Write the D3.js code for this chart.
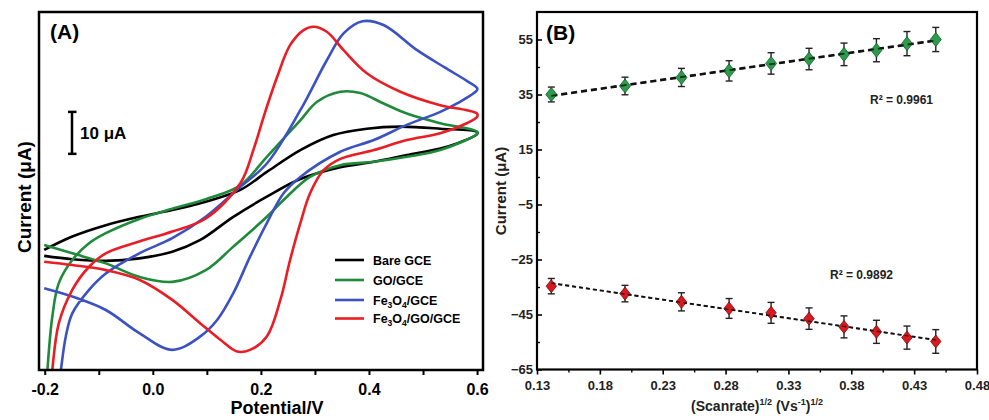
<!DOCTYPE html>
<html><head><meta charset="utf-8">
<script src="https://cdn.jsdelivr.net/npm/d3@7"></script>
<style>body{margin:0;background:#fff}svg{display:block;font-family:"Liberation Sans",Arial,sans-serif}</style>
</head><body><svg id="c" width="989" height="420"></svg>
<script>
// ---------- Panel A data: [potential (V), current (μA)] — forward branch then reverse branch ----------
const bareGCE = [[-0.201,-11.9],[-0.149,-8.7],[-0.087,-6.0],[-0.025,-4.0],[0.036,-2.4],[0.098,-0.4],[0.162,2.4],[0.211,6.7],[0.273,11.9],[0.334,15.5],[0.396,17.0],[0.458,17.5],[0.532,17.0],[0.600,16.2],
  [0.600,15.7],[0.563,13.5],[0.532,12.3],[0.470,10.7],[0.409,9.1],[0.347,7.8],[0.273,5.0],[0.211,0.8],[0.149,-4.0],[0.088,-9.5],[0.036,-12.3],[-0.025,-13.9],[-0.087,-14.5],[-0.149,-14.1],[-0.201,-13.3]];
const goGCE = [[-0.198,-47.6],[-0.195,-40.5],[-0.186,-27.8],[-0.174,-19.8],[-0.149,-14.3],[-0.118,-10.3],[-0.087,-7.9],[-0.025,-4.5],[0.036,-2.1],[0.098,0.2],[0.162,3.5],[0.211,10.3],[0.273,19.0],[0.304,23.4],[0.347,25.8],[0.384,25.5],[0.427,23.0],[0.470,20.6],[0.532,18.3],[0.600,16.3],
  [0.600,15.8],[0.532,11.9],[0.470,10.3],[0.409,9.1],[0.347,8.3],[0.291,5.5],[0.242,0.0],[0.211,-4.0],[0.149,-11.1],[0.098,-16.7],[0.036,-19.5],[-0.025,-18.3],[-0.087,-15.1],[-0.149,-12.7],[-0.201,-10.7]];
const fe3o4GCE = [[-0.176,-47.6],[-0.170,-40.5],[-0.161,-32.5],[-0.149,-27.0],[-0.118,-21.4],[-0.087,-17.5],[-0.025,-12.7],[0.036,-9.1],[0.098,-4.0],[0.160,2.9],[0.211,8.7],[0.273,21.4],[0.322,33.3],[0.353,39.7],[0.388,42.6],[0.427,41.7],[0.489,35.7],[0.540,31.6],[0.581,28.4],[0.600,26.7],
  [0.600,26.2],[0.563,23.0],[0.532,21.0],[0.470,17.9],[0.409,14.3],[0.347,11.5],[0.273,5.5],[0.242,1.6],[0.211,-5.5],[0.180,-13.5],[0.149,-22.2],[0.119,-28.6],[0.088,-32.5],[0.036,-35.7],[-0.025,-31.7],[-0.087,-26.2],[-0.149,-23.0],[-0.201,-21.0]];
const fe3o4GoGCE = [[-0.191,-47.6],[-0.186,-40.5],[-0.174,-29.4],[-0.149,-21.4],[-0.118,-15.9],[-0.087,-12.7],[-0.025,-9.9],[0.036,-7.5],[0.098,-4.4],[0.162,4.0],[0.186,11.9],[0.208,21.0],[0.230,29.3],[0.254,36.9],[0.279,40.5],[0.297,41.3],[0.322,40.1],[0.353,35.7],[0.396,30.2],[0.458,25.8],[0.532,22.6],[0.581,21.4],[0.600,20.6],
  [0.600,19.8],[0.581,18.3],[0.532,15.9],[0.470,14.3],[0.409,11.9],[0.347,9.8],[0.316,7.1],[0.291,1.6],[0.273,-5.5],[0.254,-14.3],[0.236,-23.8],[0.211,-32.5],[0.180,-35.7],[0.156,-36.1],[0.125,-33.3],[0.088,-29.4],[0.036,-23.8],[-0.025,-19.0],[-0.087,-16.7],[-0.149,-15.5],[-0.201,-14.7]];
const legendNames = ["Bare GCE", "GO/GCE", "Fe3O4/GCE", "Fe3O4/GO/GCE"];
const potentialTicks = [-0.2,-0.1,0.0,0.1,0.2,0.3,0.4,0.5,0.6];
const potentialLabels = ["-0.2","","0.0","","0.2","","0.4","","0.6"];

// ---------- Panel B data ----------
const sqrtScanRate = [0.1414,0.2000,0.2449,0.2828,0.3162,0.3464,0.3742,0.4000,0.4243,0.4472];
const anodicPeak   = [35.0,38.1,41.2,43.6,46.3,47.9,49.6,51.1,53.5,55.0];
const anodicErr    = [2.7,3.2,3.3,3.7,3.9,3.9,4.1,4.2,4.4,4.4];
const cathodicPeak = [-34.7,-37.4,-40.4,-42.8,-44.4,-46.5,-49.5,-51.3,-53.4,-54.8];
const cathodicErr  = [2.8,3.0,3.3,3.6,3.8,3.9,4.0,4.2,4.2,4.3];
const rateTicks = [0.13,0.18,0.23,0.28,0.33,0.38,0.43,0.48];
const rateMinor = [0.155,0.205,0.255,0.305,0.355,0.405,0.455];
const currentTicks = [-65,-45,-25,-5,15,35,55];
const currentMinor = [-55,-35,-15,5,25,45];
const r2Labels = ["R² = 0.9961","R² = 0.9892"];

const svg = d3.select("#c");
const FONT = '"Liberation Sans",Arial,sans-serif';

// ================= Panel A =================
const A = {l:39, r:483, t:12, b:370};
const xA = d3.scaleLinear().domain([-0.2106,0.611]).range([A.l,A.r]);
const yA = d3.scaleLinear().domain([-40.5,44.8]).range([A.b,A.t]);
svg.append("clipPath").attr("id","clipA").append("rect")
  .attr("x",A.l).attr("y",A.t).attr("width",A.r-A.l).attr("height",A.b-A.t);
const colorsA = ["#000000","#1f8a3a","#3d52c2","#ea1d25"];
const seriesA = [bareGCE, goGCE, fe3o4GCE, fe3o4GoGCE];
const lineA = d3.line().x(d=>xA(d[0])).y(d=>yA(d[1])).curve(d3.curveCatmullRom.alpha(0.5));
const gA = svg.append("g").attr("clip-path","url(#clipA)");
seriesA.forEach((s,i)=>{
  gA.append("path").attr("d",lineA(s)).attr("fill","none")
    .attr("stroke",colorsA[i]).attr("stroke-width",2.6).attr("stroke-linejoin","round");
});
svg.append("rect").attr("x",A.l).attr("y",A.t).attr("width",A.r-A.l).attr("height",A.b-A.t)
  .attr("fill","none").attr("stroke","#000").attr("stroke-width",2.5);
const axA = svg.append("g").attr("transform",`translate(0,${A.b})`)
  .call(d3.axisBottom(xA).tickValues(potentialTicks).tickFormat((d,i)=>potentialLabels[i]).tickSize(5).tickPadding(9));
axA.select(".domain").remove();
axA.selectAll("line").attr("stroke-width",2);
axA.selectAll("text").attr("font-size",16).attr("font-weight","bold").attr("font-family",FONT).attr("fill","#000");
svg.append("text").attr("x",277).attr("y",414).attr("text-anchor","middle")
  .attr("font-size",18).attr("font-weight","bold").text("Potential/V");
svg.append("text").attr("transform","translate(31,197) rotate(-90)").attr("text-anchor","middle")
  .attr("font-size",19).attr("font-weight","bold").text("Current (μA)");
svg.append("text").attr("x",50).attr("y",39).attr("font-size",21).attr("font-weight","bold").text("(A)");
// scale bar 10 μA
const sbTop = yA(21), sbBot = yA(11);
svg.append("line").attr("x1",72).attr("x2",72).attr("y1",sbTop).attr("y2",sbBot).attr("stroke","#000").attr("stroke-width",2.5);
[sbTop,sbBot].forEach(y=>svg.append("line").attr("x1",68).attr("x2",76.5).attr("y1",y).attr("y2",y).attr("stroke","#000").attr("stroke-width",2.5));
svg.append("text").attr("x",80).attr("y",(sbTop+sbBot)/2+6).attr("font-size",17).attr("font-weight","bold").text("10 μA");
// legend
const legY = [260,280,300,318.5];
legendNames.forEach((n,i)=>{
  svg.append("line").attr("x1",335).attr("x2",364).attr("y1",legY[i]).attr("y2",legY[i])
    .attr("stroke",colorsA[i]).attr("stroke-width",2.6);
  const t = svg.append("text").attr("x",373).attr("y",legY[i]+4.5).attr("font-size",12.5).attr("font-weight","bold");
  const parts = n.split(/(\d)/);
  let shifted = false;
  parts.forEach(p=>{
    if (/^\d$/.test(p)) { t.append("tspan").attr("font-size",8.5).attr("dy",shifted?0:3).text(p); shifted = true; }
    else if (p) { t.append("tspan").attr("dy",shifted?-3:0).text(p); shifted = false; }
  });
});

// ================= Panel B =================
const B = {l:537, r:977, t:12, b:369.5};
const xB = d3.scaleLinear().domain([0.13,0.48]).range([B.l,B.r]);
const yB = d3.scaleLinear().domain([-65,65]).range([B.b,B.t]);
svg.append("rect").attr("x",B.l).attr("y",B.t).attr("width",B.r-B.l).attr("height",B.b-B.t)
  .attr("fill","none").attr("stroke","#000").attr("stroke-width",2.2);
const axBx = svg.append("g").attr("transform",`translate(0,${B.b})`)
  .call(d3.axisBottom(xB).tickValues(rateTicks).tickFormat(d3.format(".2f")).tickSize(5).tickPadding(6));
axBx.select(".domain").remove();
axBx.selectAll("line").attr("stroke-width",1.6);
axBx.selectAll("text").attr("font-size",13).attr("font-weight","bold").attr("font-family",FONT).attr("fill","#222");
const axBxm = svg.append("g").attr("transform",`translate(0,${B.b})`)
  .call(d3.axisBottom(xB).tickValues(rateMinor).tickFormat("").tickSize(3));
axBxm.select(".domain").remove(); axBxm.selectAll("line").attr("stroke-width",1.4);
const axBy = svg.append("g").attr("transform",`translate(${B.l},0)`)
  .call(d3.axisLeft(yB).tickValues(currentTicks).tickFormat(d3.format("d")).tickSize(-5).tickPadding(4));
axBy.select(".domain").remove();
axBy.selectAll("line").attr("stroke-width",1.6);
axBy.selectAll("text").attr("font-size",13).attr("font-weight","bold").attr("font-family",FONT).attr("fill","#222");
const axBym = svg.append("g").attr("transform",`translate(${B.l},0)`)
  .call(d3.axisLeft(yB).tickValues(currentMinor).tickFormat("").tickSize(-3));
axBym.select(".domain").remove(); axBym.selectAll("line").attr("stroke-width",1.4);

svg.append("text").attr("x",546).attr("y",40).attr("font-size",21).attr("font-weight","bold").text("(B)");
svg.append("text").attr("transform","translate(506,191) rotate(-90)").attr("text-anchor","middle")
  .attr("font-size",15).attr("font-weight","bold").attr("fill","#222").text("Current (μA)");
const xt = svg.append("text").attr("x",757).attr("y",411).attr("text-anchor","middle")
  .attr("font-size",14).attr("font-weight","bold").attr("fill","#222");
xt.append("tspan").text("(Scanrate)");
xt.append("tspan").attr("font-size",9).attr("dy",-6).text("1/2");
xt.append("tspan").attr("dy",6).text(" (Vs");
xt.append("tspan").attr("font-size",9).attr("dy",-6).text("-1");
xt.append("tspan").attr("dy",6).text(")");
xt.append("tspan").attr("font-size",9).attr("dy",-6).text("1/2");

function fit(xs, ys){
  const mx=d3.mean(xs), my=d3.mean(ys);
  let sxy=0,sxx=0; xs.forEach((x,i)=>{sxy+=(x-mx)*(ys[i]-my); sxx+=(x-mx)*(x-mx);});
  const m=sxy/sxx; return {m, b:my-m*mx};
}
function drawSeries(vals, errs, fill, stroke, w, h, dash, lw){
  const f = fit(sqrtScanRate, vals);
  const x0=sqrtScanRate[0], x1=sqrtScanRate[sqrtScanRate.length-1];
  svg.append("line").attr("x1",xB(x0)).attr("y1",yB(f.m*x0+f.b)).attr("x2",xB(x1)).attr("y2",yB(f.m*x1+f.b))
    .attr("stroke","#111").attr("stroke-width",lw).attr("stroke-dasharray",dash);
  const g = svg.append("g");
  sqrtScanRate.forEach((x,i)=>{
    const cx=xB(x), yt=yB(vals[i]+errs[i]), yb=yB(vals[i]-errs[i]);
    g.append("line").attr("x1",cx).attr("x2",cx).attr("y1",yt).attr("y2",yb).attr("stroke","#222").attr("stroke-width",1.4);
    [yt,yb].forEach(y=>g.append("line").attr("x1",cx-3.5).attr("x2",cx+3.5).attr("y1",y).attr("y2",y).attr("stroke","#222").attr("stroke-width",1.4));
  });
  sqrtScanRate.forEach((x,i)=>{
    const cx=xB(x), cy=yB(vals[i]);
    g.append("path").attr("d",`M${cx},${cy-h}L${cx+w},${cy}L${cx},${cy+h}L${cx-w},${cy}Z`)
      .attr("fill",fill).attr("stroke",stroke).attr("stroke-width",0.8);
  });
  svg.append("line").attr("x1",xB(x0)).attr("y1",yB(f.m*x0+f.b)).attr("x2",xB(x1)).attr("y2",yB(f.m*x1+f.b))
    .attr("stroke","#111").attr("stroke-width",lw*0.7).attr("stroke-dasharray",dash).attr("opacity",0.8);
}
drawSeries(anodicPeak, anodicErr, "#2a9c4c", "#145a28", 5.5, 7, "6,4", 2.6);
drawSeries(cathodicPeak, cathodicErr, "#d81920", "#7a0a0e", 5.2, 6.5, "4,3", 1.9);
svg.append("text").attr("x",870).attr("y",104).attr("font-size",12).attr("font-weight","bold").attr("fill","#222").text(r2Labels[0]);
svg.append("text").attr("x",830).attr("y",279).attr("font-size",12).attr("font-weight","bold").attr("fill","#222").text(r2Labels[1]);
</script></body></html>
